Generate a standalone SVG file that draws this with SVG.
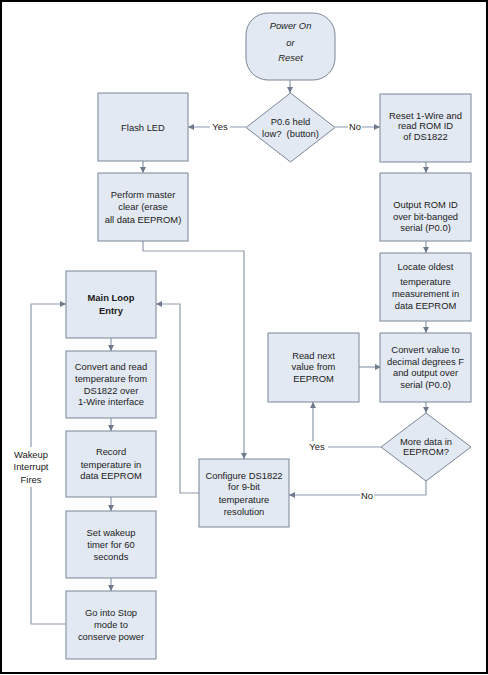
<svg xmlns="http://www.w3.org/2000/svg" width="488" height="675" viewBox="0 0 488 675">
<defs>
<style>
.box{fill:#e3e9f3;stroke:#7b8595;stroke-width:1}
.t{font-family:"Liberation Sans",Arial,sans-serif;font-size:9.4px;fill:#1a1a1a;text-anchor:middle}
.b{font-weight:bold}
.i{font-style:italic}
.c{fill:none;stroke:#8e9bad;stroke-width:1.2}
.lbl{fill:#ffffff;stroke:none}
</style>
<marker id="ah" viewBox="0 0 10 10" refX="10" refY="5" markerWidth="6" markerHeight="6" markerUnits="userSpaceOnUse" orient="auto">
<path d="M0,0 L10,5 L0,10 z" fill="#6f7b8c"/>
</marker>
</defs>
<rect x="0" y="0" width="488" height="675" fill="#ffffff"/>
<rect x="1" y="1" width="486" height="672" fill="none" stroke="#000000" stroke-width="2"/>

<g id="connectors">
<path class="c" d="M290,80 V93" marker-end="url(#ah)"/>
<path class="c" d="M246,127 H188" marker-end="url(#ah)"/>
<path class="c" d="M335,127 H380" marker-end="url(#ah)"/>
<path class="c" d="M143,161 V173" marker-end="url(#ah)"/>
<path class="c" d="M143,241 V251 H244 V459" marker-end="url(#ah)"/>
<path class="c" d="M426,162 V173" marker-end="url(#ah)"/>
<path class="c" d="M426,241 V253" marker-end="url(#ah)"/>
<path class="c" d="M426,321 V333" marker-end="url(#ah)"/>
<path class="c" d="M426,402 V413" marker-end="url(#ah)"/>
<path class="c" d="M359,367 H381" marker-end="url(#ah)"/>
<path class="c" d="M381,447 H313 V402" marker-end="url(#ah)"/>
<path class="c" d="M426,481 V495 H289" marker-end="url(#ah)"/>
<path class="c" d="M111,338 V351" marker-end="url(#ah)"/>
<path class="c" d="M111,418 V431" marker-end="url(#ah)"/>
<path class="c" d="M111,497 V511" marker-end="url(#ah)"/>
<path class="c" d="M111,578 V591" marker-end="url(#ah)"/>
<path class="c" d="M66,624 H31 V304 H66" marker-end="url(#ah)"/>
<path class="c" d="M199,493 H180 V304 H156" marker-end="url(#ah)"/>
<rect class="lbl" x="210" y="121" width="20" height="12"/>
<text class="t" x="220" y="130">Yes</text>
<rect class="lbl" x="348" y="121" width="14" height="12"/>
<text class="t" x="355" y="130">No</text>
<rect class="lbl" x="306" y="441" width="22" height="12"/>
<text class="t" x="317" y="450">Yes</text>
<rect class="lbl" x="360" y="489" width="14" height="12"/>
<text class="t" x="367" y="498.5">No</text>
<rect class="lbl" x="10" y="447" width="42" height="40"/>
<text class="t" x="31" y="457.5">Wakeup</text>
<text class="t" x="31" y="470">Interrupt</text>
<text class="t" x="31" y="482.5">Fires</text>
</g>

<g id="start">
<rect class="box" x="246" y="13" width="89" height="67" rx="22" ry="22"/>
<text class="t i" x="290.5" y="28.5">Power On</text>
<text class="t i" x="290.5" y="46">or</text>
<text class="t i" x="290.5" y="61">Reset</text>
</g>

<g id="button-decision">
<path class="box" d="M290.5,93 L335,127.5 L290.5,162 L246,127.5 Z"/>
<text class="t" x="290.5" y="125">P0.6 held</text>
<text class="t" x="290.5" y="136.5">low?&#160; (button)</text>
</g>

<g id="flash-led">
<rect class="box" x="98" y="93" width="90" height="68"/>
<text class="t" x="143" y="130.5">Flash LED</text>
</g>

<g id="master-clear">
<rect class="box" x="98" y="173" width="90" height="68"/>
<text class="t" x="143" y="197.5">Perform master</text>
<text class="t" x="143" y="210">clear (erase</text>
<text class="t" x="143" y="222.5">all data EEPROM)</text>
</g>

<g id="reset-1wire">
<rect class="box" x="380" y="94" width="91" height="68"/>
<text class="t" x="425.5" y="118.5">Reset 1-Wire and</text>
<text class="t" x="425.5" y="129">read ROM ID</text>
<text class="t" x="425.5" y="139.5">of DS1822</text>
</g>

<g id="output-rom">
<rect class="box" x="380" y="173" width="91" height="68"/>
<text class="t" x="425.5" y="207.5">Output ROM ID</text>
<text class="t" x="425.5" y="219.5">over bit-banged</text>
<text class="t" x="425.5" y="231">serial (P0.0)</text>
</g>

<g id="locate-oldest">
<rect class="box" x="380" y="253" width="91" height="68"/>
<text class="t" x="425.5" y="270">Locate oldest</text>
<text class="t" x="425.5" y="285">temperature</text>
<text class="t" x="425.5" y="296.5">measurement in</text>
<text class="t" x="425.5" y="308.5">data EEPROM</text>
</g>

<g id="convert-value">
<rect class="box" x="380" y="333" width="91" height="69"/>
<text class="t" x="425.5" y="352.5">Convert value to</text>
<text class="t" x="425.5" y="364.5">decimal degrees F</text>
<text class="t" x="425.5" y="376">and output over</text>
<text class="t" x="425.5" y="387.5">serial (P0.0)</text>
</g>

<g id="read-next">
<rect class="box" x="268" y="333" width="91" height="69"/>
<text class="t" x="313.5" y="358.5">Read next</text>
<text class="t" x="313.5" y="370">value from</text>
<text class="t" x="313.5" y="381.5">EEPROM</text>
</g>

<g id="more-data">
<path class="box" d="M426,413 L471,447 L426,481 L381,447 Z"/>
<text class="t" x="426" y="445">More data in</text>
<text class="t" x="426" y="455">EEPROM?</text>
</g>

<g id="configure">
<rect class="box" x="199" y="459" width="90" height="68"/>
<text class="t" x="244" y="478.5">Configure DS1822</text>
<text class="t" x="244" y="490">for 9-bit</text>
<text class="t" x="244" y="502.5">temperature</text>
<text class="t" x="244" y="514.5">resolution</text>
</g>

<g id="main-loop">
<rect class="box" x="66" y="271" width="90" height="67"/>
<text class="t b" x="111" y="301">Main Loop</text>
<text class="t b" x="111" y="313.5">Entry</text>
</g>

<g id="convert-read">
<rect class="box" x="66" y="351" width="90" height="67"/>
<text class="t" x="111" y="370">Convert and read</text>
<text class="t" x="111" y="381.5">temperature from</text>
<text class="t" x="111" y="393.5">DS1822 over</text>
<text class="t" x="111" y="405">1-Wire interface</text>
</g>

<g id="record-temp">
<rect class="box" x="66" y="431" width="90" height="66"/>
<text class="t" x="111" y="455">Record</text>
<text class="t" x="111" y="467.5">temperature in</text>
<text class="t" x="111" y="478.5">data EEPROM</text>
</g>

<g id="set-wakeup">
<rect class="box" x="66" y="511" width="90" height="67"/>
<text class="t" x="111" y="535.5">Set wakeup</text>
<text class="t" x="111" y="547.5">timer for 60</text>
<text class="t" x="111" y="559.5">seconds</text>
</g>

<g id="stop-mode">
<rect class="box" x="66" y="591" width="90" height="68"/>
<text class="t" x="111" y="615.5">Go into Stop</text>
<text class="t" x="111" y="627.5">mode to</text>
<text class="t" x="111" y="639.5">conserve power</text>
</g>
</svg>
